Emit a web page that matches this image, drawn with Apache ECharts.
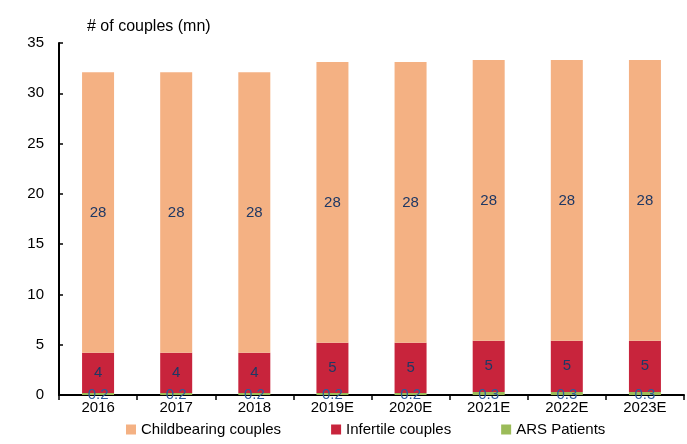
<!DOCTYPE html>
<html>
<head>
<meta charset="utf-8">
<script src="https://cdn.jsdelivr.net/npm/echarts@6/dist/echarts.min.js"></script>
<style>
html,body{margin:0;padding:0;background:#fff;}
#main{width:687px;height:444px;}
</style>
</head>
<body>
<div id="main"></div>
<script>
// years on the x axis
var years = ['2016', '2017', '2018', '2019E', '2020E', '2021E', '2022E', '2023E'];
// values in mn couples
var arsPatients = [0.2, 0.2, 0.2, 0.2, 0.2, 0.3, 0.3, 0.3];
var infertile = [4.0, 4.0, 4.0, 5.0, 5.0, 5.1, 5.1, 5.1];
var childbearing = [27.9, 27.9, 27.9, 27.9, 27.9, 27.9, 27.9, 27.9];
var yTicks = [0, 5, 10, 15, 20, 25, 30, 35];

var chart = echarts.init(document.getElementById('main'));
var font = 'Liberation Sans, Arial, sans-serif';

function seg(name, data, color, labelColor, fmt) {
    return {
        name: name,
        type: 'bar',
        stack: 'total',
        barWidth: 32,
        data: data,
        itemStyle: {color: color},
        label: {
            show: true,
            position: 'inside',
            color: labelColor,
            textBorderWidth: 0,
            fontSize: 15,
            fontFamily: font,
            formatter: fmt
        }
    };
}

var ars = seg('ARS Patients', arsPatients, '#9BBB59', '#2E5C9A', function (p) { return p.value.toFixed(1); });
ars.label.offset = [0, 1];
ars.z = 5;

var option = {
    backgroundColor: '#fff',
    animation: false,
    title: {
        text: '# of couples (mn)',
        left: 82,
        top: 14,
        textStyle: {color: '#000', fontSize: 16, fontWeight: 'normal', fontFamily: font}
    },
    grid: {left: 59, right: 3, top: 43, bottom: 49},
    legend: {
        left: 121,
        bottom: 2,
        icon: 'rect',
        itemWidth: 10,
        itemHeight: 10,
        itemGap: 50,
        itemTextGap: 3,
        textStyle: {color: '#000', fontSize: 15, fontFamily: font},
        data: ['Childbearing couples', 'Infertile couples', 'ARS Patients']
    },
    xAxis: {
        type: 'category',
        data: years,
        axisLine: {lineStyle: {color: '#000', width: 2}},
        axisTick: {show: true, length: 5, lineStyle: {color: '#000', width: 1.5}},
        axisLabel: {color: '#000', fontSize: 15, fontFamily: font, margin: 5}
    },
    yAxis: {
        type: 'value',
        min: yTicks[0],
        max: yTicks[yTicks.length - 1],
        interval: 5,
        splitLine: {show: false},
        axisLine: {show: true, lineStyle: {color: '#000', width: 2}},
        axisTick: {show: true, inside: true, length: 4, lineStyle: {color: '#000', width: 1.5}},
        axisLabel: {color: '#000', fontSize: 15, fontFamily: font, margin: 15}
    },
    series: [
        ars,
        seg('Infertile couples', infertile, '#C8243C', '#1F3864', function (p) { return Math.round(p.value); }),
        seg('Childbearing couples', childbearing, '#F4B183', '#1F3864', function (p) { return Math.round(p.value); })
    ]
};
chart.setOption(option);
</script>
</body>
</html>
